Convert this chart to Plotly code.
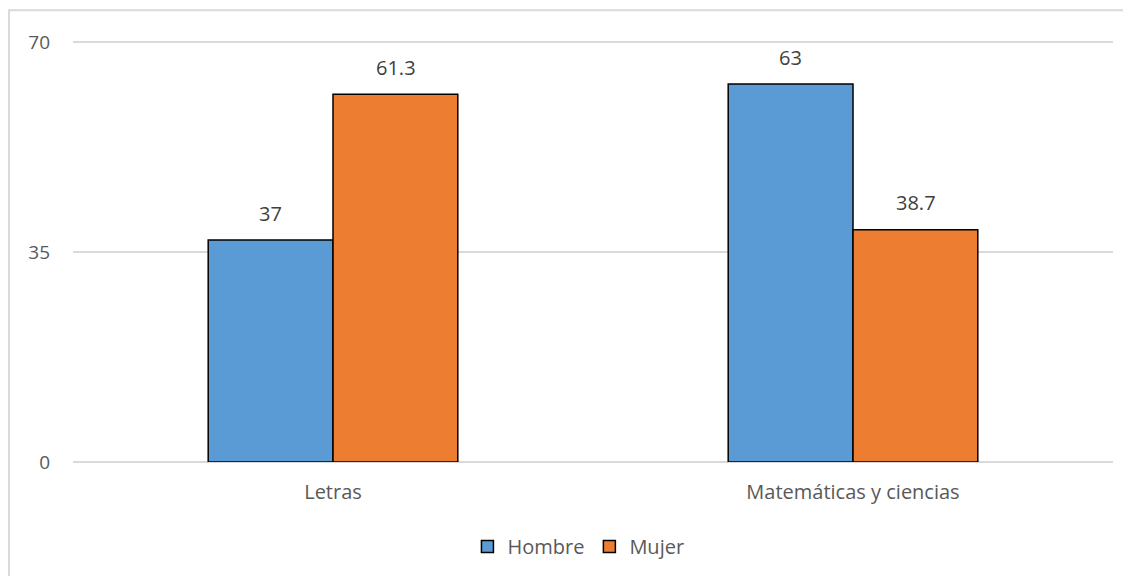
import plotly.graph_objects as go

categorias = ["Letras", "Matemáticas y ciencias"]
hombre = [37, 63]
mujer = [61.3, 38.7]
etiquetas_hombre = ["37", "63"]
etiquetas_mujer = ["61.3", "38.7"]

fig = go.Figure()
fig.add_trace(go.Bar(x=categorias, y=hombre, name="Hombre",
                     marker=dict(color="#5b9bd5", line=dict(color="black", width=1.5))))
fig.add_trace(go.Bar(x=categorias, y=mujer, name="Mujer",
                     marker=dict(color="#ed7d31", line=dict(color="black", width=1.5))))

# etiquetas de datos encima de cada barra
anotaciones = []
for serie, etiquetas, desplazamiento in [(hombre, etiquetas_hombre, -62.5), (mujer, etiquetas_mujer, 62.5)]:
    for cat, val, txt in zip(categorias, serie, etiquetas):
        anotaciones.append(dict(x=cat, y=val, text=txt, showarrow=False, xshift=desplazamiento,
                                yshift=27, yanchor="middle", font=dict(size=20, color="#404040")))

# la pagina tiene 8px de margen en el body, se compensa aqui
fig.update_layout(
    width=1131, height=576,
    barmode="group", bargap=0.52, bargroupgap=0,
    margin=dict(l=65, r=26, t=31, b=122, autoexpand=False),
    paper_bgcolor="white", plot_bgcolor="white",
    font=dict(family="Open Sans", size=19, color="#595959"),
    showlegend=True,
    legend=dict(orientation="h", x=0.486, xanchor="center", y=-0.2, yanchor="middle",
                font=dict(size=20, color="#595959"), itemwidth=30, tracegroupgap=0),
    xaxis=dict(showline=False, ticks="", tickfont=dict(size=20), automargin=False,
               ticklabelstandoff=16),
    yaxis=dict(range=[0, 70.5], tickvals=[0, 35, 70], gridcolor="#d9d9d9", gridwidth=1.5,
               zeroline=True, zerolinecolor="#d9d9d9", zerolinewidth=1.5,
               ticklabelstandoff=22, tickfont=dict(size=19), automargin=False),
    annotations=anotaciones,
    shapes=[dict(type="rect", xref="paper", yref="paper", x0=-0.0615, x1=1.03, y0=-0.3, y1=1.068,
                 line=dict(color="#d9d9d9", width=2), layer="below")],
)

fig.write_html("out.html")
